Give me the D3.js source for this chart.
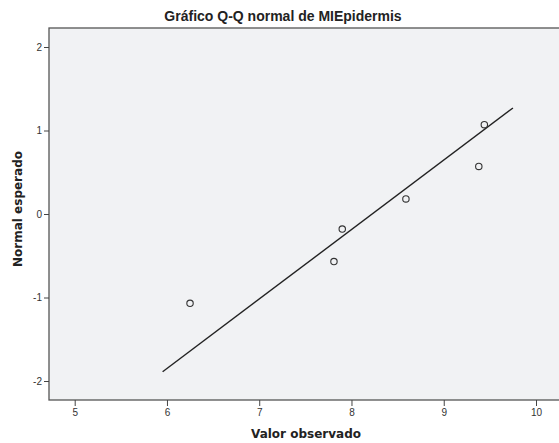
<!DOCTYPE html>
<html lang="es">
<head>
<meta charset="utf-8">
<title>Gráfico Q-Q normal</title>
<script src="https://d3js.org/d3.v7.min.js"></script>
<style>
  body { margin: 0; background: #fff; }
  .tick text { font-family: "Liberation Sans", Arial, sans-serif; font-size: 10px; fill: #333; }
  .tick line { stroke: #444; }
  .domain { display: none; }
</style>
</head>
<body>
<script>
// observed values (MIEpidermis) and expected normal values
var observed = [6.25, 7.81, 7.90, 8.59, 9.38, 9.44];
var expected = [-1.07, -0.57, -0.18, 0.18, 0.57, 1.07];
// reference line endpoints
var lineX = [5.953, 9.75];
var lineY = [-1.89, 1.27];
var xTicks = [5, 6, 7, 8, 9, 10];
var yTicks = [-2, -1, 0, 1, 2];

var W = 559, H = 443;
var plotLeft = 49, plotTop = 28, plotBottom = 400, plotRight = 562;

var x = d3.scaleLinear().domain([5, 10]).range([74.7, 536]);
var y = d3.scaleLinear().domain([-2, 2]).range([381, 47]);

var svg = d3.select("body").append("svg")
    .attr("width", W)
    .attr("height", H);

// plot area
svg.append("rect")
    .attr("x", plotLeft)
    .attr("y", plotTop)
    .attr("width", plotRight - plotLeft)
    .attr("height", plotBottom - plotTop)
    .attr("fill", "#f1f2f4")
    .attr("stroke", "#555")
    .attr("stroke-width", 1.3);

// axes
svg.append("g")
    .attr("transform", "translate(0," + plotBottom + ")")
    .call(d3.axisBottom(x).tickValues(xTicks).tickSize(6).tickPadding(3).tickFormat(function (d) { return String(d); }));

svg.append("g")
    .attr("transform", "translate(" + plotLeft + ",0)")
    .call(d3.axisLeft(y).tickValues(yTicks).tickSize(5).tickPadding(2).tickFormat(function (d) { return String(d); }));

// reference line
svg.append("line")
    .attr("x1", x(lineX[0])).attr("y1", y(lineY[0]))
    .attr("x2", x(lineX[1])).attr("y2", y(lineY[1]))
    .attr("stroke", "#222")
    .attr("stroke-width", 1.4);

// points
svg.selectAll("circle.pt")
    .data(observed)
    .enter().append("circle")
    .attr("class", "pt")
    .attr("cx", function (d) { return x(d); })
    .attr("cy", function (d, i) { return y(expected[i]); })
    .attr("r", 3.2)
    .attr("fill", "none")
    .attr("stroke", "#333")
    .attr("stroke-width", 1.1);

// title
svg.append("text")
    .attr("x", 283)
    .attr("y", 21)
    .attr("text-anchor", "middle")
    .style("font-family", "'Liberation Sans', Arial, sans-serif")
    .style("font-weight", "bold")
    .style("font-size", "14px")
    .style("fill", "#222")
    .text("Gráfico Q-Q normal de MIEpidermis");

// axis titles
svg.append("text")
    .attr("x", 306)
    .attr("y", 438)
    .attr("text-anchor", "middle")
    .style("font-family", "'DejaVu Sans', sans-serif")
    .style("font-weight", "bold")
    .style("font-size", "12px")
    .style("fill", "#222")
    .text("Valor observado");

svg.append("text")
    .attr("transform", "translate(22,209) rotate(-90)")
    .attr("text-anchor", "middle")
    .style("font-family", "'DejaVu Sans', sans-serif")
    .style("font-weight", "bold")
    .style("font-size", "12px")
    .style("fill", "#222")
    .text("Normal esperado");
</script>
</body>
</html>
